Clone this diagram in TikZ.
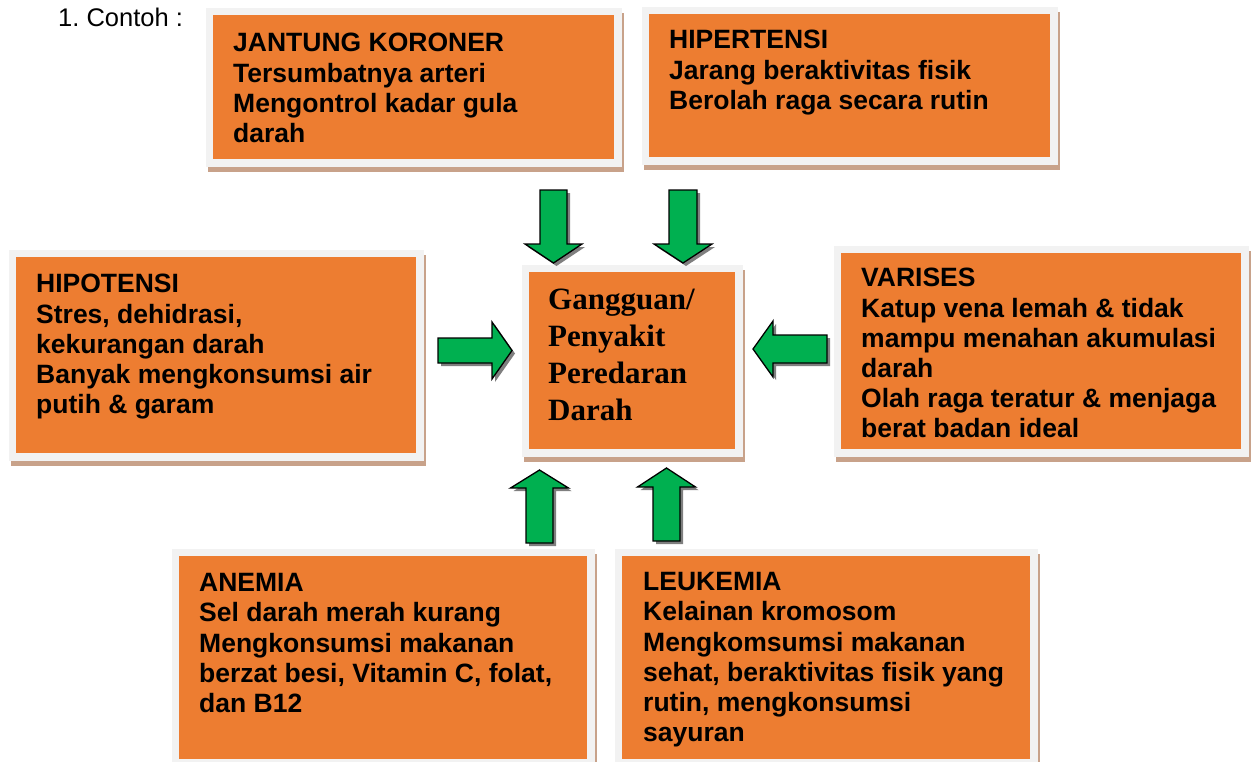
\documentclass[tikz,border=0pt]{standalone}
\usepackage{fontspec}
\setmainfont{Liberation Sans}
\newfontfamily\serifbold{Liberation Serif}
\definecolor{boxorange}{HTML}{ED7D31}
\definecolor{boxframe}{HTML}{F2F2F2}
\definecolor{boxshadow}{HTML}{C8A28A}
\definecolor{arrowgreen}{HTML}{00B050}
\definecolor{arrowshade}{HTML}{7F7F7F}
\tikzset{
  orangefill/.style={fill=boxorange},
  framefill/.style={fill=boxframe},
  shadowfill/.style={fill=boxshadow},
  boxtext/.style={anchor=north west, inner sep=0pt, align=left,
    font=\fontsize{26.5}{30.2}\selectfont\bfseries},
  centertext/.style={anchor=north west, inner sep=0pt, align=left,
    font=\fontsize{31}{37}\selectfont\serifbold\bfseries},
  arrbody/.style={fill=arrowgreen, draw=black, line width=1.3pt, line join=miter},
  arrshadow/.style={fill=arrowshade, xshift=3pt, yshift=-3pt},
}
% card: name, x1, y1, x2, y2 (orange area)
\newcommand\card[5]{%
  \fill[shadowfill] (#2-7.5+2.5,#3-7.5+5.5) rectangle (#4+7.5+2.5,#5+7.5+5.5);
  \fill[framefill] (#2-7.5,#3-7.5) rectangle (#4+7.5,#5+7.5);
  \node[orangefill, anchor=north west, inner sep=0pt, minimum width=#4pt-#2pt,
        minimum height=#5pt-#3pt] (#1) at (#2,#3) {};
}
% vertical arrow: cx, ytail, yhead, shafthalf, headhalf, ytip
\newcommand\varr[6]{%
  \fill[arrshadow] (#1-#4,#2) -- (#1-#4,#3) -- (#1-#5,#3) -- (#1,#6) -- (#1+#5,#3) -- (#1+#4,#3) -- (#1+#4,#2) -- cycle;
  \draw[arrbody] (#1-#4,#2) -- (#1-#4,#3) -- (#1-#5,#3) -- (#1,#6) -- (#1+#5,#3) -- (#1+#4,#3) -- (#1+#4,#2) -- cycle;
}
% horizontal arrow: cy, xtail, xhead, shafthalf, headhalf, xtip
\newcommand\harr[6]{%
  \fill[arrshadow] (#2,#1-#4) -- (#3,#1-#4) -- (#3,#1-#5) -- (#6,#1) -- (#3,#1+#5) -- (#3,#1+#4) -- (#2,#1+#4) -- cycle;
  \draw[arrbody] (#2,#1-#4) -- (#3,#1-#4) -- (#3,#1-#5) -- (#6,#1) -- (#3,#1+#5) -- (#3,#1+#4) -- (#2,#1+#4) -- cycle;
}
\begin{document}
\begin{tikzpicture}[x=1pt, y=-1pt]
\useasboundingbox (0,0) rectangle (1255,761);
\clip (0,0) rectangle (1255,761);

\node[anchor=base west, inner sep=0pt, font=\fontsize{25.5}{30}\selectfont] (contoh) at (58,26) {1.\ Contoh :};

\card{jk}{213}{15}{614}{159}
\card{hy}{649}{14}{1050}{157}
\card{ho}{16}{257}{416}{453}
\card{ce}{529}{272}{735}{449}
\card{va}{841}{253}{1241}{449}
\card{an}{179}{556}{587}{759}
\card{le}{622}{556}{1030}{759}

\node[boxtext] (jkt) at (233,52-18.8) {JANTUNG KORONER\\Tersumbatnya arteri\\Mengontrol kadar gula\\darah};
\node[boxtext] (hyt) at (669,49-18.8) {HIPERTENSI\\Jarang beraktivitas fisik\\Berolah raga secara rutin};
\node[boxtext] (hot) at (36,293-18.8) {HIPOTENSI\\Stres, dehidrasi,\\kekurangan darah\\Banyak mengkonsumsi air\\putih \& garam};
\begin{scope}
\clip (841,253) rectangle (1241,437);
\node[boxtext] (vat) at (861,287-18.8) {VARISES\\Katup vena lemah \& tidak\\mampu menahan akumulasi\\darah\\Olah raga teratur \& menjaga\\berat badan ideal};
\end{scope}
\node[boxtext] (ant) at (199,592-18.8) {ANEMIA\\Sel darah merah kurang\\Mengkonsumsi makanan\\berzat besi, Vitamin C, folat,\\dan B12};
\node[boxtext] (let) at (643,591-18.8) {LEUKEMIA\\Kelainan kromosom\\Mengkomsumsi makanan\\sehat, beraktivitas fisik yang\\rutin, mengkonsumsi\\sayuran};
\node[centertext] (cet) at (548,310-21) {Gangguan/\\Penyakit\\Peredaran\\Darah};

% arrows
\varr{553.5}{190}{244}{13.5}{28.5}{263}
\varr{683}{190}{244}{14}{29}{263}
\varr{539.5}{543}{488}{13.5}{29}{470}
\varr{666.5}{541}{487}{13.5}{29}{468}
\harr{350.5}{438}{492}{12.5}{28.5}{512}
\harr{349}{827}{773}{14}{28}{753}
\end{tikzpicture}
\end{document}
